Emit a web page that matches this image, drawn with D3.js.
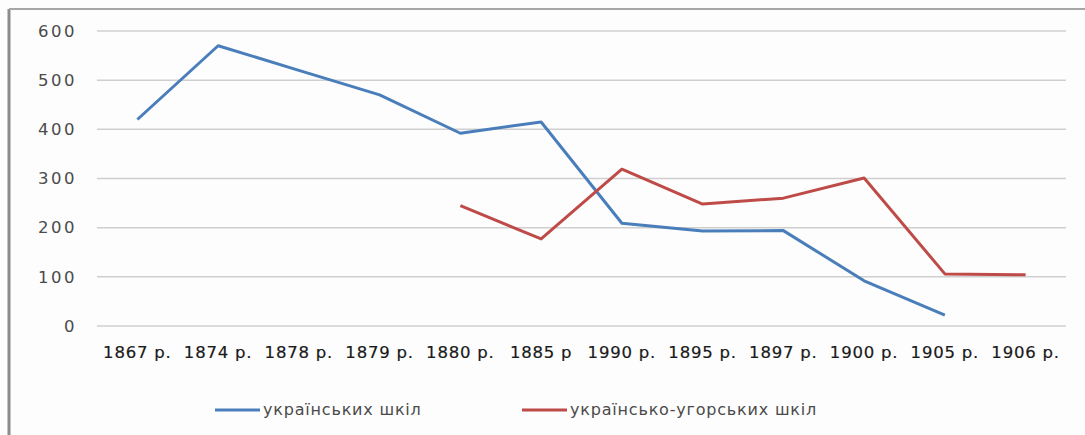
<!DOCTYPE html>
<html>
<head>
  <meta charset="UTF-8">
  <style>
    body { margin: 0; background: #fdfdfd; }
    svg { display: block; }
    text { font-family: "DejaVu Sans", sans-serif; }
  </style>
  <title>Школи</title>
</head>
<body>
  <script src="https://cdn.jsdelivr.net/npm/d3@7"></script>
  <script>
    // data
    var years = ["1867 р.", "1874 р.", "1878 р.", "1879 р.", "1880 р.", "1885 р",
                 "1990 р.", "1895 р.", "1897 р.", "1900 р.", "1905 р.", "1906 р."];
    var ukrSchools = [420, 570, 520, 470, 392, 415, 209, 193, 194, 92, 22, null];
    var ukrHungSchools = [null, null, null, null, 245, 177, 319, 248, 260, 301, 106, 104];
    var yTicks = [0, 100, 200, 300, 400, 500, 600];
    var seriesNames = ["українських шкіл", "українсько-угорських шкіл"];
    var seriesColors = ["#4a7ebb", "#be4b48"];

    var width = 1085, height = 435;
    var plotLeft = 97, plotRight = 1066, plotTop = 31, plotBottom = 326;

    var svg = d3.select("body").append("svg")
      .attr("width", width)
      .attr("height", height);

    // frame (left and top edges visible)
    svg.append("line").attr("x1", 9).attr("x2", 9).attr("y1", 9).attr("y2", height)
      .attr("stroke", "#8c8c8c").attr("stroke-width", 3);
    svg.append("line").attr("x1", 9).attr("x2", width).attr("y1", 9).attr("y2", 9)
      .attr("stroke", "#a6a6a6").attr("stroke-width", 2);

    var x = d3.scaleBand().domain(years).range([plotLeft, plotRight]);
    var y = d3.scaleLinear().domain([0, 600]).range([plotBottom, plotTop]);

    // gridlines
    svg.append("g").selectAll("line")
      .data(yTicks).enter().append("line")
      .attr("x1", plotLeft).attr("x2", plotRight)
      .attr("y1", function(d) { return y(d); })
      .attr("y2", function(d) { return y(d); })
      .attr("stroke", "#cfcfcf").attr("stroke-width", 1.5);

    // y axis labels
    var yAxis = d3.axisLeft(y).tickValues(yTicks).tickSize(0).tickPadding(0);
    var gy = svg.append("g").attr("transform", "translate(77,0)").call(yAxis);
    gy.select(".domain").remove();
    gy.selectAll("text")
      .attr("font-family", "DejaVu Sans")
      .attr("font-size", 16.5)
      .attr("letter-spacing", 2.5)
      .attr("fill", "#4a4a4a");

    // x axis labels
    var xAxis = d3.axisBottom(x).tickSize(0).tickPadding(0);
    var gx = svg.append("g").attr("transform", "translate(0,346)").call(xAxis);
    gx.select(".domain").remove();
    gx.selectAll("text")
      .attr("font-family", "DejaVu Sans")
      .attr("font-size", 16.5)
      .attr("letter-spacing", 0.8)
      .attr("fill", "#1a1a1a")
      .attr("stroke", "#1a1a1a")
      .attr("stroke-width", 0.2);

    // lines
    var line = d3.line()
      .defined(function(d) { return d != null; })
      .x(function(d, i) { return x(years[i]) + x.bandwidth() / 2; })
      .y(function(d) { return y(d); });

    [ukrSchools, ukrHungSchools].forEach(function(s, i) {
      svg.append("path")
        .datum(s)
        .attr("d", line)
        .attr("fill", "none")
        .attr("stroke", seriesColors[i])
        .attr("stroke-width", 3)
        .attr("stroke-linejoin", "round");
    });

    // legend
    var legendX = [215, 522];
    var legend = svg.append("g").selectAll("g")
      .data(seriesNames).enter().append("g")
      .attr("transform", function(d, i) { return "translate(" + legendX[i] + ",410)"; });
    legend.append("line")
      .attr("x1", 0).attr("x2", 45).attr("y1", 0).attr("y2", 0)
      .attr("stroke", function(d, i) { return seriesColors[i]; })
      .attr("stroke-width", 3);
    legend.append("text")
      .attr("x", 48).attr("y", 5)
      .attr("font-size", 16)
      .attr("letter-spacing", 0.8)
      .attr("fill", "#4a4a4a")
      .text(function(d) { return d; });
  </script>
</body>
</html>
